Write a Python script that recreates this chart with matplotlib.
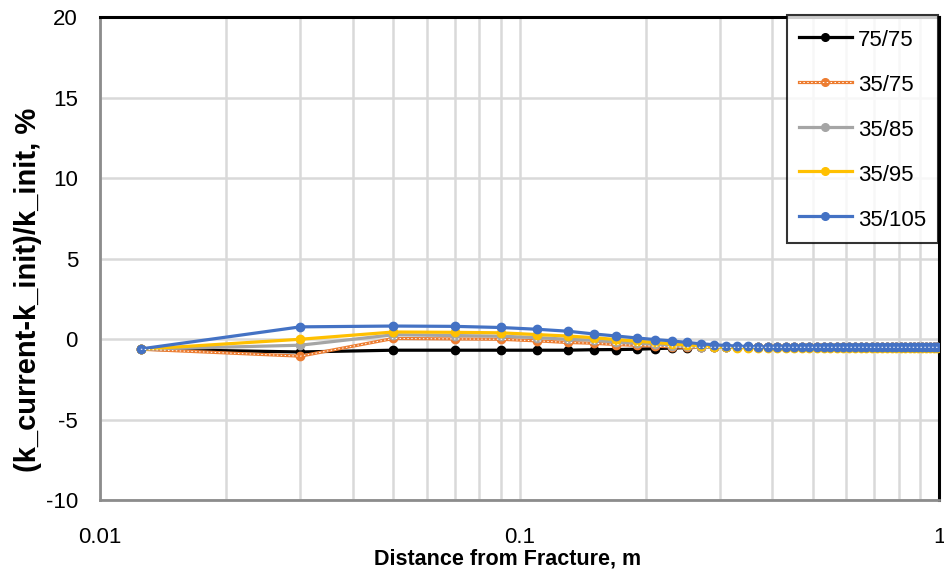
import numpy as np
import matplotlib
matplotlib.use("Agg")
import matplotlib.pyplot as plt
from matplotlib.ticker import FixedLocator, FixedFormatter, LogLocator, NullFormatter

# 数据
distance = [0.0125, 0.03, 0.05, 0.07, 0.09, 0.11, 0.13, 0.15, 0.17, 0.19,
            0.21, 0.23, 0.25, 0.27, 0.29, 0.31, 0.33, 0.35, 0.37, 0.39,
            0.41, 0.43, 0.45, 0.47, 0.49, 0.51, 0.53, 0.55, 0.57, 0.59,
            0.61, 0.63, 0.65, 0.67, 0.69, 0.71, 0.73, 0.75, 0.77, 0.79,
            0.81, 0.83, 0.85, 0.87, 0.89, 0.91, 0.93, 0.95, 0.97, 0.99]

k_75_75 = [-0.62, -0.79, -0.68, -0.68, -0.68, -0.68, -0.68, -0.65, -0.64, -0.62,
           -0.58, -0.55, -0.52, -0.50, -0.50, -0.50, -0.50, -0.50, -0.50, -0.50,
           -0.50, -0.50, -0.50, -0.50, -0.50, -0.50, -0.50, -0.50, -0.50, -0.50,
           -0.50, -0.50, -0.50, -0.50, -0.50, -0.50, -0.50, -0.50, -0.50, -0.50,
           -0.50, -0.50, -0.50, -0.50, -0.50, -0.50, -0.50, -0.50, -0.50, -0.50]

k_35_75 = [-0.62, -1.05, 0.05, 0.02, 0.00, -0.10, -0.20, -0.25, -0.33, -0.38,
           -0.43, -0.47, -0.50, -0.50, -0.50, -0.50, -0.50, -0.50, -0.50, -0.50,
           -0.50, -0.50, -0.50, -0.50, -0.50, -0.50, -0.50, -0.50, -0.50, -0.50,
           -0.50, -0.50, -0.50, -0.50, -0.50, -0.50, -0.50, -0.50, -0.50, -0.50,
           -0.50, -0.50, -0.50, -0.50, -0.50, -0.50, -0.50, -0.50, -0.50, -0.50]

k_35_85 = [-0.62, -0.37, 0.28, 0.23, 0.19, 0.10, 0.00, -0.06, -0.18, -0.25,
           -0.32, -0.40, -0.45, -0.49, -0.50, -0.50, -0.50, -0.50, -0.50, -0.50,
           -0.50, -0.50, -0.50, -0.50, -0.50, -0.50, -0.50, -0.50, -0.50, -0.50,
           -0.50, -0.50, -0.50, -0.50, -0.50, -0.50, -0.50, -0.50, -0.50, -0.50,
           -0.50, -0.50, -0.50, -0.50, -0.50, -0.50, -0.50, -0.50, -0.50, -0.50]

k_35_95 = [-0.62, 0.00, 0.45, 0.43, 0.40, 0.29, 0.20, 0.10, -0.02, -0.12,
           -0.20, -0.28, -0.36, -0.42, -0.47, -0.50, -0.52, -0.52, -0.52, -0.52,
           -0.52, -0.52, -0.52, -0.52, -0.52, -0.52, -0.52, -0.52, -0.52, -0.52,
           -0.52, -0.52, -0.52, -0.52, -0.52, -0.52, -0.52, -0.52, -0.52, -0.52,
           -0.52, -0.52, -0.52, -0.52, -0.52, -0.52, -0.52, -0.52, -0.52, -0.52]

k_35_105 = [-0.60, 0.77, 0.82, 0.80, 0.73, 0.62, 0.50, 0.33, 0.20, 0.08,
            -0.02, -0.10, -0.20, -0.28, -0.34, -0.39, -0.42, -0.45, -0.47, -0.48,
            -0.48, -0.48, -0.48, -0.48, -0.48, -0.48, -0.48, -0.48, -0.48, -0.48,
            -0.48, -0.48, -0.48, -0.48, -0.48, -0.48, -0.48, -0.48, -0.48, -0.48,
            -0.48, -0.48, -0.48, -0.48, -0.48, -0.48, -0.48, -0.48, -0.48, -0.48]

series_names = ["75/75", "35/75", "35/85", "35/95", "35/105"]
series_data = [k_75_75, k_35_75, k_35_85, k_35_95, k_35_105]
series_colors = ["#000000", "#ED7D31", "#A5A5A5", "#FFC000", "#4472C4"]

x_ticks = [0.01, 0.1, 1]
x_tick_labels = ["0.01", "0.1", "1"]
y_ticks = [-10, -5, 0, 5, 10, 15, 20]

plt.rcParams['font.family'] = ['Liberation Sans', 'DejaVu Sans']
plt.rcParams['axes.unicode_minus'] = False

fig = plt.figure(figsize=(9.45, 5.75), dpi=100)
ax = fig.add_axes([0.106, 0.130, 0.888, 0.840])

handles = []
for name, vals, color in zip(series_names, series_data, series_colors):
    line, = ax.plot(distance, vals, color=color, lw=2.3, marker='o', ms=6,
                    zorder=3, label=name)
    if name == "35/75":
        # Excel 里橙色线带白色虚线
        dash, = ax.plot(distance, vals, color='white', lw=0.7, ls=(0, (1.5, 2.5)),
                        zorder=3.01)
        handles.append((line, dash))
    else:
        handles.append(line)

ax.set_xscale('log')
ax.set_xlim(0.01, 1)
ax.set_ylim(-10, 20)

ax.xaxis.set_major_locator(FixedLocator(x_ticks))
ax.xaxis.set_major_formatter(FixedFormatter(x_tick_labels))
ax.xaxis.set_minor_locator(LogLocator(base=10, subs=np.arange(2, 10), numticks=20))
ax.xaxis.set_minor_formatter(NullFormatter())
ax.set_yticks(y_ticks)

ax.grid(True, which='major', color='#d9d9d9', lw=1.8, zorder=0)
ax.grid(True, which='minor', axis='x', color='#d9d9d9', lw=1.8, zorder=0)
ax.set_axisbelow(True)

ax.tick_params(axis='both', which='both', length=0)
ax.tick_params(axis='y', labelsize=16, pad=16)
ax.tick_params(axis='x', labelsize=16, pad=19)

ax.spines['top'].set_color('black')
ax.spines['right'].set_color('black')
ax.spines['top'].set_linewidth(2.2)
ax.spines['right'].set_linewidth(2.2)
ax.spines['left'].set_color('#8c8c8c')
ax.spines['bottom'].set_color('#8c8c8c')
ax.spines['left'].set_linewidth(2.0)
ax.spines['bottom'].set_linewidth(2.0)

ax.set_xlabel('Distance from Fracture, m', fontsize=15.5, fontweight='bold')
ax.set_ylabel('(k_current-k_init)/k_init, %', fontsize=21, fontweight='bold')
ax.xaxis.set_label_coords(0.485, -0.1)
ax.yaxis.set_label_coords(-0.069, 0.435)

leg = ax.legend(handles, series_names, loc='upper right', fontsize=16,
                bbox_to_anchor=(938 / 945, 1 - 15 / 575),
                bbox_transform=fig.transFigure,
                frameon=True, fancybox=False, edgecolor='black',
                handlelength=2.4, handleheight=1.25, labelspacing=0.93,
                borderpad=0.55, handletextpad=0.25, borderaxespad=0)
leg.get_frame().set_linewidth(1.5)
for h in leg.legend_handles:
    try:
        h.set_markersize(5.5)
    except AttributeError:
        pass

fig.savefig('out.png', dpi=100)
